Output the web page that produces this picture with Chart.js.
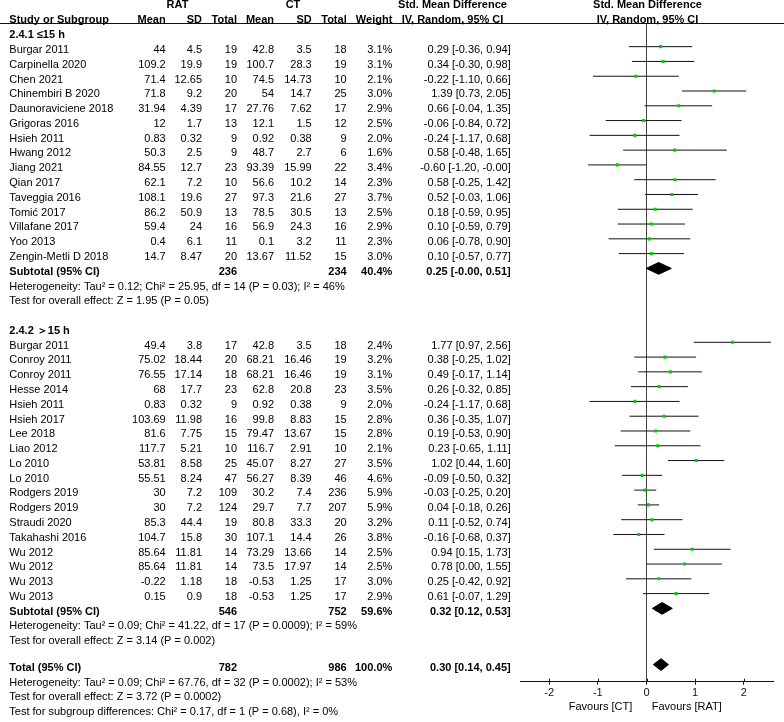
<!DOCTYPE html>
<html><head><meta charset="utf-8">
<script src="https://cdn.jsdelivr.net/npm/chart.js@4.4.1/dist/chart.umd.min.js"></script>
<style>html,body{margin:0;padding:0;background:#fff;}#wrap{position:relative;width:784px;height:722px;}</style>
</head><body><div id="wrap"><canvas id="c"></canvas></div>
<script>
// ---------- DATA ----------
const group1Label = "2.4.1 \u226415 h";
const studies1 = ["Burgar 2011","Carpinella 2020","Chen 2021","Chinembiri B 2020","Daunoraviciene 2018","Grigoras 2016","Hsieh 2011","Hwang 2012","Jiang 2021","Qian 2017","Taveggia 2016","Tomi\u0107 2017","Villafane 2017","Yoo 2013","Zengin-Metli D 2018"];
const ratMean1 = [44,109.2,71.4,71.8,31.94,12,0.83,50.3,84.55,62.1,108.1,86.2,59.4,0.4,14.7];
const ratSD1 = [4.5,19.9,12.65,9.2,4.39,1.7,0.32,2.5,12.7,7.2,19.6,50.9,24,6.1,8.47];
const ratN1 = [19,19,10,20,17,13,9,9,23,10,27,13,16,11,20];
const ctMean1 = [42.8,100.7,74.5,54,27.76,12.1,0.92,48.7,93.39,56.6,97.3,78.5,56.9,0.1,13.67];
const ctSD1 = [3.5,28.3,14.73,14.7,7.62,1.5,0.38,2.7,15.99,10.2,21.6,30.5,24.3,3.2,11.52];
const ctN1 = [18,19,10,25,17,12,9,6,22,14,27,13,16,11,15];
const weight1 = [3.1,3.1,2.1,3.0,2.9,2.5,2.0,1.6,3.4,2.3,3.7,2.5,2.9,2.3,3.0];
const smd1 = [0.29,0.34,-0.22,1.39,0.66,-0.06,-0.24,0.58,-0.60,0.58,0.52,0.18,0.10,0.06,0.10];
const lo1 = [-0.36,-0.30,-1.10,0.73,-0.04,-0.84,-1.17,-0.48,-1.20,-0.25,-0.03,-0.59,-0.59,-0.78,-0.57];
const hi1 = [0.94,0.98,0.66,2.05,1.35,0.72,0.68,1.65,-0.004,1.42,1.06,0.95,0.79,0.90,0.77];

const group2Label = "2.4.2 \uFF1E15 h";
const studies2 = ["Burgar 2011","Conroy 2011","Conroy 2011","Hesse 2014","Hsieh 2011","Hsieh 2017","Lee 2018","Liao 2012","Lo 2010","Lo 2010","Rodgers 2019","Rodgers 2019","Straudi 2020","Takahashi 2016","Wu 2012","Wu 2012","Wu 2013","Wu 2013"];
const ratMean2 = [49.4,75.02,76.55,68,0.83,103.69,81.6,117.7,53.81,55.51,30,30,85.3,104.7,85.64,85.64,-0.22,0.15];
const ratSD2 = [3.8,18.44,17.14,17.7,0.32,11.98,7.75,5.21,8.58,8.24,7.2,7.2,44.4,15.8,11.81,11.81,1.18,0.9];
const ratN2 = [17,20,18,23,9,16,15,10,25,47,109,124,19,30,14,14,18,18];
const ctMean2 = [42.8,68.21,68.21,62.8,0.92,99.8,79.47,116.7,45.07,56.27,30.2,29.7,80.8,107.1,73.29,73.5,-0.53,-0.53];
const ctSD2 = [3.5,16.46,16.46,20.8,0.38,8.83,13.67,2.91,8.27,8.39,7.4,7.7,33.3,14.4,13.66,17.97,1.25,1.25];
const ctN2 = [18,19,19,23,9,15,15,10,27,46,236,207,20,26,14,14,17,17];
const weight2 = [2.4,3.2,3.1,3.5,2.0,2.8,2.8,2.1,3.5,4.6,5.9,5.9,3.2,3.8,2.5,2.5,3.0,2.9];
const smd2 = [1.77,0.38,0.49,0.26,-0.24,0.36,0.19,0.23,1.02,-0.09,-0.03,0.04,0.11,-0.16,0.94,0.78,0.25,0.61];
const lo2 = [0.97,-0.25,-0.17,-0.32,-1.17,-0.35,-0.53,-0.65,0.44,-0.50,-0.25,-0.18,-0.52,-0.68,0.15,0.00,-0.42,-0.07];
const hi2 = [2.56,1.02,1.14,0.85,0.68,1.07,0.90,1.11,1.60,0.32,0.20,0.26,0.74,0.37,1.73,1.55,0.92,1.29];

// summary rows: [subgroup1, subgroup2, total]
const summaryLabels = ["Subtotal (95% CI)","Subtotal (95% CI)","Total (95% CI)"];
const summaryRatN = [236,546,782];
const summaryCtN = [234,752,986];
const summaryWeight = [40.4,59.6,100.0];
const summaryEst = [0.25,0.32,0.30];
const summaryLo = [-0.004,0.12,0.14];
const summaryHi = [0.51,0.53,0.45];

const hetText1 = ["Heterogeneity: Tau\u00B2 = 0.12; Chi\u00B2 = 25.95, df = 14 (P = 0.03); I\u00B2 = 46%","Test for overall effect: Z = 1.95 (P = 0.05)"];
const hetText2 = ["Heterogeneity: Tau\u00B2 = 0.09; Chi\u00B2 = 41.22, df = 17 (P = 0.0009); I\u00B2 = 59%","Test for overall effect: Z = 3.14 (P = 0.002)"];
const hetTextTotal = ["Heterogeneity: Tau\u00B2 = 0.09; Chi\u00B2 = 67.76, df = 32 (P = 0.0002); I\u00B2 = 53%","Test for overall effect: Z = 3.72 (P = 0.0002)","Test for subgroup differences: Chi\u00B2 = 0.17, df = 1 (P = 0.68), I\u00B2 = 0%"];

const xTickValues = [-2,-1,0,1,2];
const favoursLeft = "Favours [CT]";
const favoursRight = "Favours [RAT]";

// ---------- LAYOUT (rows) ----------
const FONT = '"Liberation Sans", Arial, sans-serif';
const START1 = 0, START2 = 20;
const SUMROWS = [START1 + studies1.length, START2 + studies2.length, 41.8];
const Y_MIN = -1.58, Y_MAX = 42.96;

function ciData(lo, hi, start) {
  const d = [];
  lo.forEach((l, i) => { d.push({x: l, y: start + i}, {x: hi[i], y: start + i}, {x: null, y: null}); });
  return d;
}
function ptData(est, start) { return est.map((v, i) => ({x: v, y: start + i})); }
function diamond(k) {
  const r = SUMROWS[k], h = 0.4;
  return [{x: summaryLo[k], y: r}, {x: summaryEst[k], y: r - h}, {x: summaryHi[k], y: r}, {x: summaryEst[k], y: r + h}, {x: summaryLo[k], y: r}];
}

const points = ptData(smd1, START1).concat(ptData(smd2, START2));
const ciLines = ciData(lo1, hi1, START1).concat(ciData(lo2, hi2, START2));

const diamondDS = [0,1,2].map(k => ({
  type: 'line', data: diamond(k), borderColor: '#000', backgroundColor: '#000',
  borderWidth: 1, pointRadius: 0, fill: 'shape', tension: 0
}));

const textPlugin = {
  id: 'forestText',
  afterDraw(chart) {
    const ctx = chart.ctx, ys = chart.scales.y, xs = chart.scales.x, area = chart.chartArea;
    const ty = r => ys.getPixelForValue(r) + 3.3;
    const reg = '11px ' + FONT, bold = 'bold 11px ' + FONT;
    ctx.save();
    ctx.fillStyle = '#000';
    ctx.textBaseline = 'middle';
    const t = (s, x, r, align, b) => { ctx.font = b ? bold : reg; ctx.textAlign = align || 'left'; ctx.fillText(s, x, ty(r)); };
    // header line
    ctx.strokeStyle = '#111'; ctx.lineWidth = 1;
    const hy = Math.round(area.top) + 0.5;
    ctx.beginPath(); ctx.moveTo(0, hy); ctx.lineTo(784, hy); ctx.stroke();
    // tick upper halves
    xTickValues.forEach(v => { const px = Math.round(xs.getPixelForValue(v)) + 0.5; ctx.beginPath(); ctx.moveTo(px, area.bottom - 3); ctx.lineTo(px, area.bottom); ctx.stroke(); });

    const COL = {name: 9.3, m1: 165.7, s1: 202, n1: 237, m2: 274, s2: 311.7, n2: 346.7, w: 392.3, ci: 510.7, ciH: 452.5, plotH: 647.5};
    // headers
    t('RAT', 177.5, -3.03, 'center', true);
    t('CT', 293, -3.03, 'center', true);
    t('Std. Mean Difference', COL.ciH, -3.03, 'center', true);
    t('Std. Mean Difference', COL.plotH, -3.03, 'center', true);
    t('Study or Subgroup', COL.name, -2.05, 'left', true);
    t('Mean', COL.m1, -2.05, 'right', true);
    t('SD', COL.s1, -2.05, 'right', true);
    t('Total', COL.n1, -2.05, 'right', true);
    t('Mean', COL.m2, -2.05, 'right', true);
    t('SD', COL.s2, -2.05, 'right', true);
    t('Total', COL.n2, -2.05, 'right', true);
    t('Weight', COL.w, -2.05, 'right', true);
    t('IV, Random, 95% CI', COL.ciH, -2.05, 'center', true);
    t('IV, Random, 95% CI', COL.plotH, -2.05, 'center', true);

    const ciStr = (e, l, h) => e.toFixed(2) + ' [' + l.toFixed(2) + ', ' + h.toFixed(2) + ']';
    function group(label, start, names, m1, s1, n1, m2, s2, n2, w, e, l, h) {
      t(label, COL.name, start - 1, 'left', true);
      names.forEach((nm, i) => {
        const r = start + i;
        t(nm, COL.name, r);
        t(String(m1[i]), COL.m1, r, 'right');
        t(String(s1[i]), COL.s1, r, 'right');
        t(String(n1[i]), COL.n1, r, 'right');
        t(String(m2[i]), COL.m2, r, 'right');
        t(String(s2[i]), COL.s2, r, 'right');
        t(String(n2[i]), COL.n2, r, 'right');
        t(w[i].toFixed(1) + '%', COL.w, r, 'right');
        t(ciStr(e[i], l[i], h[i]), COL.ci, r, 'right');
      });
    }
    group(group1Label, START1, studies1, ratMean1, ratSD1, ratN1, ctMean1, ctSD1, ctN1, weight1, smd1, lo1, hi1);
    group(group2Label, START2, studies2, ratMean2, ratSD2, ratN2, ctMean2, ctSD2, ctN2, weight2, smd2, lo2, hi2);
    [0,1,2].forEach(k => {
      const r = SUMROWS[k];
      t(summaryLabels[k], COL.name, r, 'left', true);
      t(String(summaryRatN[k]), COL.n1, r, 'right', true);
      t(String(summaryCtN[k]), COL.n2, r, 'right', true);
      t(summaryWeight[k].toFixed(1) + '%', COL.w, r, 'right', true);
      t(ciStr(summaryEst[k], summaryLo[k], summaryHi[k]), COL.ci, r, 'right', true);
    });
    [[hetText1, SUMROWS[0]], [hetText2, SUMROWS[1]], [hetTextTotal, SUMROWS[2]]].forEach(([lines, r0]) => {
      lines.forEach((s, i) => t(s, COL.name, r0 + 1 + i));
    });
    // favours labels
    ctx.font = reg; ctx.textBaseline = 'middle';
    ctx.textAlign = 'right'; ctx.fillText(favoursLeft, 632.3, 706.7);
    ctx.textAlign = 'left'; ctx.fillText(favoursRight, 651.7, 706.7);
    ctx.restore();
  }
};

new Chart(document.getElementById('c'), {
  type: 'scatter',
  data: {
    datasets: [
      {type: 'scatter', data: points, pointStyle: 'rect', pointRadius: 2.2, pointHoverRadius: 2.2,
       backgroundColor: '#00d200', borderColor: '#00d200', borderWidth: 0},
      ...diamondDS,
      {type: 'line', data: ciLines, borderColor: '#111', borderWidth: 1, pointRadius: 0, fill: false, spanGaps: false, tension: 0}
    ]
  },
  options: {
    responsive: true, maintainAspectRatio: false, animation: false,
    layout: {padding: {left: 520, right: 11, top: 23.3, bottom: 0.3}},
    plugins: {legend: {display: false}, tooltip: {enabled: false}},
    scales: {
      x: {
        type: 'linear', min: -2.6, max: 2.6, position: 'bottom',
        afterBuildTicks: s => { s.ticks = xTickValues.map(v => ({value: v})); },
        afterFit: s => { s.height = 40; },
        grid: {drawOnChartArea: true, drawTicks: true, tickLength: 3, tickColor: '#111',
               color: c => (c.tick && c.tick.value === 0) ? '#444' : 'rgba(0,0,0,0)', lineWidth: 1},
        border: {display: true, color: '#111', width: 1},
        ticks: {font: {family: FONT, size: 11}, color: '#111', padding: 2, maxRotation: 0}
      },
      y: {type: 'linear', display: false, reverse: true, min: Y_MIN, max: Y_MAX}
    }
  },
  plugins: [textPlugin]
});
</script></body></html>
